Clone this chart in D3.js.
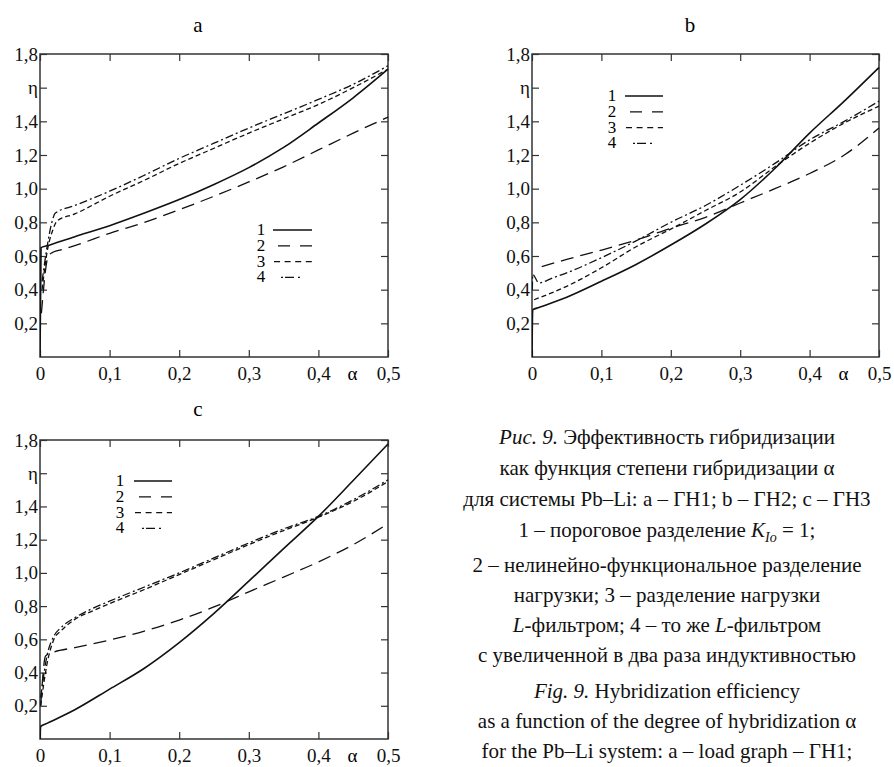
<!DOCTYPE html>
<html>
<head>
<meta charset="utf-8">
<script src="https://cdn.jsdelivr.net/npm/d3@7"></script>
<style>
  html, body { margin: 0; padding: 0; background: #fff; }
  svg { display: block; }
  svg text { font-family: "Liberation Serif", "Times New Roman", Tinos, "DejaVu Serif", "Noto Serif", serif; }
</style>
</head>
<body>
<svg id="chart" width="894" height="767"></svg>
<script>
// tick values and labels
var yTicks = [0.2, 0.4, 0.6, 0.8, 1.0, 1.2, 1.4, 1.6, 1.8],
    xTicks = [0, 0.1, 0.2, 0.3, 0.4, 0.5],
    seriesNames = ['1', '2', '3', '4'];

// curves, [alpha, eta]
var a1 = [[0, 0], [0.0015, 0.65], [0.01, 0.661], [0.05, 0.715], [0.1, 0.78], [0.15, 0.855], [0.2, 0.935],
          [0.25, 1.025], [0.3, 1.125], [0.35, 1.245], [0.4, 1.39], [0.45, 1.54], [0.5, 1.71]];
var a2 = [[0.002, 0.26], [0.012, 0.6], [0.02, 0.625], [0.03, 0.637], [0.05, 0.662], [0.1, 0.735], [0.15, 0.8],
          [0.2, 0.875], [0.25, 0.955], [0.3, 1.04], [0.35, 1.13], [0.4, 1.23], [0.45, 1.33], [0.5, 1.425]];
var a3 = [[0.003, 0.4], [0.01, 0.62], [0.018, 0.75], [0.025, 0.81], [0.05, 0.85], [0.1, 0.955], [0.15, 1.05],
          [0.2, 1.15], [0.25, 1.24], [0.3, 1.33], [0.35, 1.415], [0.4, 1.5], [0.45, 1.6], [0.5, 1.71]];
var a4 = [[0.003, 0.45], [0.01, 0.65], [0.017, 0.8], [0.022, 0.855], [0.05, 0.9], [0.1, 0.985], [0.15, 1.08],
          [0.2, 1.18], [0.25, 1.27], [0.3, 1.36], [0.35, 1.445], [0.4, 1.53], [0.45, 1.62], [0.5, 1.73]];

var b1 = [[0, 0], [0.001, 0.28], [0.01, 0.294], [0.05, 0.355], [0.1, 0.45], [0.15, 0.55], [0.2, 0.665],
          [0.25, 0.79], [0.3, 0.935], [0.35, 1.12], [0.4, 1.33], [0.45, 1.52], [0.5, 1.72]];
var b2 = [[0.014, 0.537], [0.05, 0.58], [0.1, 0.635], [0.15, 0.695], [0.2, 0.765], [0.25, 0.83], [0.3, 0.915],
          [0.35, 1.0], [0.4, 1.09], [0.45, 1.2], [0.5, 1.36]];
var b3 = [[0.003, 0.34], [0.05, 0.42], [0.1, 0.53], [0.15, 0.655], [0.2, 0.76], [0.25, 0.87], [0.3, 0.98],
          [0.35, 1.13], [0.4, 1.27], [0.45, 1.39], [0.5, 1.49]];
var b4 = [[0.0005, 0.4], [0.001, 0.49], [0.01, 0.44], [0.03, 0.47], [0.05, 0.5], [0.1, 0.59], [0.15, 0.69],
          [0.2, 0.8], [0.25, 0.9], [0.3, 1.02], [0.35, 1.15], [0.4, 1.29], [0.45, 1.4], [0.5, 1.52]];

var c1 = [[0, 0], [0.001, 0.076], [0.01, 0.094], [0.05, 0.176], [0.1, 0.3], [0.15, 0.426], [0.2, 0.58],
          [0.25, 0.756], [0.3, 0.95], [0.35, 1.146], [0.4, 1.34], [0.45, 1.556], [0.5, 1.776]];
var c2 = [[0.001, 0.2], [0.008, 0.5], [0.018, 0.52], [0.05, 0.55], [0.1, 0.596], [0.15, 0.65], [0.2, 0.716],
          [0.25, 0.795], [0.3, 0.886], [0.35, 0.975], [0.4, 1.066], [0.45, 1.17], [0.5, 1.296]];
var c3 = [[0.001, 0.2], [0.01, 0.45], [0.02, 0.6], [0.03, 0.65], [0.05, 0.72], [0.075, 0.77], [0.1, 0.815],
          [0.15, 0.9], [0.2, 0.99], [0.25, 1.08], [0.3, 1.17], [0.35, 1.255], [0.4, 1.335], [0.45, 1.43], [0.5, 1.55]];
var c4 = [[0.001, 0.25], [0.01, 0.5], [0.02, 0.62], [0.03, 0.67], [0.05, 0.73], [0.075, 0.785], [0.1, 0.83],
          [0.15, 0.915], [0.2, 1.0], [0.25, 1.09], [0.3, 1.18], [0.35, 1.265], [0.4, 1.34], [0.45, 1.44], [0.5, 1.56]];

var tickLen = 7;

// line styles per series: plot dash and legend dash
var styles = [
    {width: 1.6, dash: null, legendDash: null, legendStart: 0},
    {width: 1.3, dash: '13,7', legendDash: '12,10', legendStart: 5},
    {width: 1.3, dash: '5,3', legendDash: '6,4.6', legendStart: 1},
    {width: 1.3, dash: '8,3,2,3', legendDash: '2,2,9,4,2,60', legendStart: 8}
];

var panels = [
    {title: 'a', x0: 40, x1: 388, y0: 54, y1: 357, titleX: 198, titleY: 32,
     series: [a1, a2, a3, a4], legend: {nx: 261, lx0: 273, lx1: 312, ly: 230}},
    {title: 'b', x0: 532, x1: 879, y0: 54, y1: 357, titleX: 690, titleY: 32,
     series: [b1, b2, b3, b4], legend: {nx: 612, lx0: 625, lx1: 663, ly: 96}},
    {title: 'c', x0: 40, x1: 388, y0: 440, y1: 739, titleX: 198, titleY: 416,
     series: [c1, c2, c3, c4], legend: {nx: 120, lx0: 134, lx1: 172, ly: 481}}
];

function fmt(d) {
    return d3.format('.1f')(d).replace('.', ',');
}

var svg = d3.select('#chart');
svg.append('rect').attr('width', 894).attr('height', 767).attr('fill', '#fff');

panels.forEach(function(p, pi) {
    var x = d3.scaleLinear().domain([0, 0.5]).range([p.x0, p.x1]),
        y = d3.scaleLinear().domain([0, 1.8]).range([p.y1, p.y0]);

    var g = svg.append('g').attr('class', 'panel-' + p.title);

    g.append('text')
        .attr('x', p.titleX).attr('y', p.titleY)
        .attr('text-anchor', 'middle')
        .attr('font-size', 21)
        .text(p.title);

    // inward ticks on all four sides
    var left = g.append('g').attr('transform', 'translate(' + p.x0 + ',0)')
        .call(d3.axisLeft(y).tickValues(yTicks).tickSize(-tickLen).tickPadding(2)
            .tickFormat(function(d) { return Math.abs(d - 1.6) < 1e-9 ? 'η' : fmt(d); }));
    var right = g.append('g').attr('transform', 'translate(' + p.x1 + ',0)')
        .call(d3.axisRight(y).tickValues(yTicks).tickSize(-tickLen).tickFormat(''));
    var bottom = g.append('g').attr('transform', 'translate(0,' + p.y1 + ')')
        .call(d3.axisBottom(x).tickValues(xTicks).tickSize(-tickLen).tickPadding(10)
            .tickFormat(function(d) { return d === 0 ? '0' : fmt(d); }));
    var top = g.append('g').attr('transform', 'translate(0,' + p.y0 + ')')
        .call(d3.axisTop(x).tickValues(xTicks).tickSize(-tickLen).tickFormat(''));

    [left, right, bottom, top].forEach(function(ax) {
        ax.attr('font-family', null);
        ax.select('.domain').remove();
        ax.selectAll('line').attr('stroke', '#333').attr('stroke-width', 1.2);
        ax.selectAll('text').attr('font-size', 19).attr('fill', '#111');
    });

    g.append('text')
        .attr('x', x(0.449)).attr('y', p.y1 + 10)
        .attr('dy', '0.71em')
        .attr('text-anchor', 'middle')
        .attr('font-size', 19)
        .text('α');

    g.append('rect')
        .attr('x', p.x0).attr('y', p.y0)
        .attr('width', p.x1 - p.x0).attr('height', p.y1 - p.y0)
        .attr('fill', 'none').attr('stroke', '#333').attr('stroke-width', 1.5);

    var clipId = 'clip-' + pi;
    svg.append('clipPath').attr('id', clipId)
        .append('rect')
        .attr('x', p.x0).attr('y', p.y0 - 2)
        .attr('width', p.x1 - p.x0 + 1).attr('height', p.y1 - p.y0 + 2);

    var line = d3.line()
        .x(function(d) { return x(d[0]); })
        .y(function(d) { return y(d[1]); })
        .curve(d3.curveMonotoneX);

    var curves = g.append('g').attr('clip-path', 'url(#' + clipId + ')');
    p.series.forEach(function(s, si) {
        curves.append('path')
            .attr('d', line(s))
            .attr('fill', 'none')
            .attr('stroke', '#111')
            .attr('stroke-width', styles[si].width)
            .attr('stroke-dasharray', styles[si].dash);
    });

    // legend, numbers stacked tight as in the print
    var lg = g.append('g');
    seriesNames.forEach(function(name, si) {
        var ly = p.legend.ly + si * 15.8;
        lg.append('text')
            .attr('x', p.legend.nx).attr('y', ly + 5)
            .attr('text-anchor', 'middle')
            .attr('font-size', 17)
            .text(name);
        lg.append('line')
            .attr('x1', p.legend.lx0 + styles[si].legendStart)
            .attr('x2', si === 3 ? p.legend.lx0 + 29 : p.legend.lx1)
            .attr('y1', ly).attr('y2', ly)
            .attr('stroke', '#111')
            .attr('stroke-width', styles[si].width)
            .attr('stroke-dasharray', styles[si].legendDash);
    });
});

// caption
var captionLines = [
    [{t: 'Рис. 9.', i: true}, {t: ' Эффективность гибридизации'}],
    [{t: 'как функция степени гибридизации α'}],
    [{t: 'для системы Pb–Li: a – ГН1; b – ГН2; c – ГН3'}],
    [{t: '1 – пороговое разделение  '}, {t: 'K', i: true}, {t: 'Io', i: true, sub: true}, {t: ' = 1;', up: true}],
    [{t: '2 – нелинейно-функциональное разделение'}],
    [{t: 'нагрузки; 3 – разделение нагрузки'}],
    [{t: 'L', i: true}, {t: '-фильтром; 4 – то же '}, {t: 'L', i: true}, {t: '-фильтром'}],
    [{t: 'с увеличенной в два раза индуктивностью'}],
    [{t: 'Fig. 9.', i: true}, {t: ' Hybridization efficiency'}],
    [{t: 'as a function of the degree of hybridization α'}],
    [{t: 'for the Pb–Li system: a – load graph – ГН1;'}]
];
var captionY = [444, 475, 506, 537, 572, 602, 632, 662, 698, 728, 758];

var cap = svg.append('g').attr('font-size', 21).attr('fill', '#111');
captionLines.forEach(function(parts, li) {
    var t = cap.append('text')
        .attr('x', 667).attr('y', captionY[li])
        .attr('text-anchor', 'middle');
    parts.forEach(function(part) {
        var ts = t.append('tspan').text(part.t);
        if (part.i) ts.attr('font-style', 'italic');
        if (part.sub) ts.attr('font-size', 14).attr('dy', 5);
        if (part.up) ts.attr('dy', -5);
    });
});
</script>
</body>
</html>
